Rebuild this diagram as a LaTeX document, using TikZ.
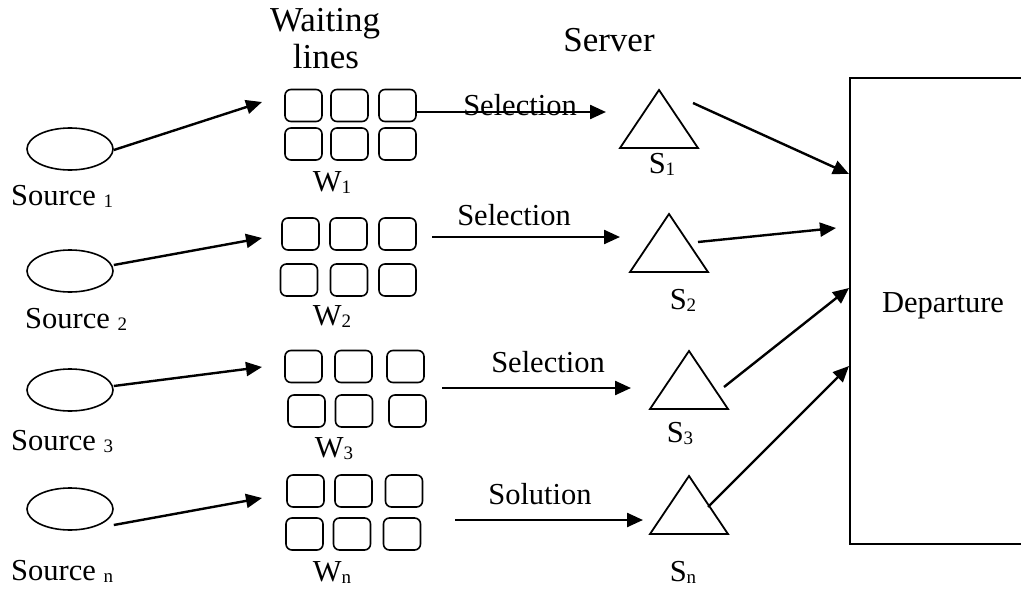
\documentclass[tikz,border=0pt]{standalone}
\usepackage{fontspec}
\setmainfont{Liberation Serif}
\usetikzlibrary{arrows.meta,shapes.geometric}
\tikzset{
  qbox/.style={draw, rounded corners=6pt, line width=1.6pt, minimum width=37pt, minimum height=32pt, inner sep=0pt},
  src/.style={draw, ellipse, line width=1.6pt, minimum width=86pt, minimum height=42pt, inner sep=0pt},
  flow/.style={line width=2.4pt, -{Triangle[length=16pt, width=14pt]}},
  lbl/.style={inner sep=0pt, font=\fontsize{30.5pt}{34pt}\selectfont},
  big/.style={inner sep=0pt, font=\fontsize{35pt}{40pt}\selectfont},
  srv/.style={line width=1.8pt, line join=miter}
}
\newcommand\sub[1]{\raisebox{-2pt}{\fontsize{19pt}{19pt}\selectfont #1}}
\begin{document}
\begin{tikzpicture}[x=1pt, y=-1pt]
\useasboundingbox (0,0) rectangle (1021,594);

% headings
\node[big] (hw1) at (325,24) {Waiting};
\node[big] (hw2) at (326,57) {lines};
\node[big] (hsrv) at (609,40) {Server};

% sources
\node[src] (e1) at (70,149) {};
\node[src] (e2) at (70,271) {};
\node[src] (e3) at (70,390) {};
\node[src] (en) at (70,509) {};
\node[lbl, anchor=base west] (l1) at (11,205) {Source \sub{1}};
\node[lbl, anchor=base west] (l2) at (25,328) {Source \sub{2}};
\node[lbl, anchor=base west] (l3) at (11,450) {Source \sub{3}};
\node[lbl, anchor=base west] (ln) at (11,580) {Source \sub{n}};

% waiting lines W1
\node[qbox] (w1a) at (303.5,105.5) {};
\node[qbox] (w1b) at (349.5,105.5) {};
\node[qbox] (w1c) at (397.5,105.5) {};
\node[qbox] (w1d) at (303.5,144) {};
\node[qbox] (w1e) at (349.5,144) {};
\node[qbox] (w1f) at (397.5,144) {};
\node[lbl, anchor=base] (lw1) at (332,191) {W\sub{1}};
% W2
\node[qbox] (w2a) at (300.5,234) {};
\node[qbox] (w2b) at (348.5,234) {};
\node[qbox] (w2c) at (397.5,234) {};
\node[qbox] (w2d) at (299,280) {};
\node[qbox] (w2e) at (349,280) {};
\node[qbox] (w2f) at (397.5,280) {};
\node[lbl, anchor=base] (lw2) at (332,325) {W\sub{2}};
% W3
\node[qbox] (w3a) at (303.5,366.5) {};
\node[qbox] (w3b) at (353.5,366.5) {};
\node[qbox] (w3c) at (405.5,366.5) {};
\node[qbox] (w3d) at (306.5,411) {};
\node[qbox] (w3e) at (354,411) {};
\node[qbox] (w3f) at (407.5,411) {};
\node[lbl, anchor=base] (lw3) at (334,457) {W\sub{3}};
% Wn
\node[qbox] (wna) at (305.5,491) {};
\node[qbox] (wnb) at (353.5,491) {};
\node[qbox] (wnc) at (404,491) {};
\node[qbox] (wnd) at (304.5,534) {};
\node[qbox] (wne) at (352,534) {};
\node[qbox] (wnf) at (402,534) {};
\node[lbl, anchor=base] (lwn) at (332,581) {W\sub{n}};

% arrivals
\coordinate (a1) at (262,102);
\coordinate (a2) at (262,238);
\coordinate (a3) at (262,367);
\coordinate (an) at (262,498);
\draw[flow] (e1.east) ++(0,1) -- (a1);
\draw[flow] (e2.east) ++(0,-6) -- (a2);
\draw[flow] (e3.east) ++(0,-4) -- (a3);
\draw[flow] (en.east) ++(0,16) -- (an);

% servers
\coordinate (s1) at (659,90);
\coordinate (s2) at (669,214);
\coordinate (s3) at (689,351);
\coordinate (sn) at (689,476);
\foreach \s in {s1,s2,s3,sn}
  \draw[srv] (\s) -- ++(39,58) -- ++(-78,0) -- cycle;
\node[lbl, anchor=base] (ls1) at (662,173) {S\sub{1}};
\node[lbl, anchor=base] (ls2) at (683,309) {S\sub{2}};
\node[lbl, anchor=base] (ls3) at (680,442) {S\sub{3}};
\node[lbl, anchor=base] (lsn) at (683,581) {S\sub{n}};

% selection
\coordinate (q1) at (417,112);
\coordinate (q2) at (432,237);
\coordinate (q3) at (442,388);
\coordinate (qn) at (455,520);
\coordinate (t1) at (606,112);
\coordinate (t2) at (620,237);
\coordinate (t3) at (631,388);
\coordinate (tn) at (643,520);
\draw[flow] (q1) -- (t1);
\draw[flow] (q2) -- (t2);
\draw[flow] (q3) -- (t3);
\draw[flow] (qn) -- (tn);
\node[lbl, anchor=base] (sel1) at (520,116) {Selection};
\node[lbl, anchor=base] (sel2) at (514,225) {Selection};
\node[lbl, anchor=base] (sel3) at (548,372) {Selection};
\node[lbl, anchor=base] (soln) at (540,504) {Solution};

% departure
\node[draw, line width=1.6pt, anchor=north west, minimum width=200pt, minimum height=466pt, inner sep=0pt] (dep) at (849,77) {};
\node[lbl, anchor=base] (ldep) at (943,312) {Departure};
\coordinate (o1) at (693,103);
\coordinate (o2) at (698,242);
\coordinate (o3) at (724,387);
\coordinate (on) at (708,507);
\coordinate (d1) at (849,174);
\coordinate (d2) at (836,228);
\coordinate (d3) at (849,288);
\coordinate (dn) at (849,366);
\draw[flow] (o1) -- (d1);
\draw[flow] (o2) -- (d2);
\draw[flow] (o3) -- (d3);
\draw[flow] (on) -- (dn);
\end{tikzpicture}
\end{document}
